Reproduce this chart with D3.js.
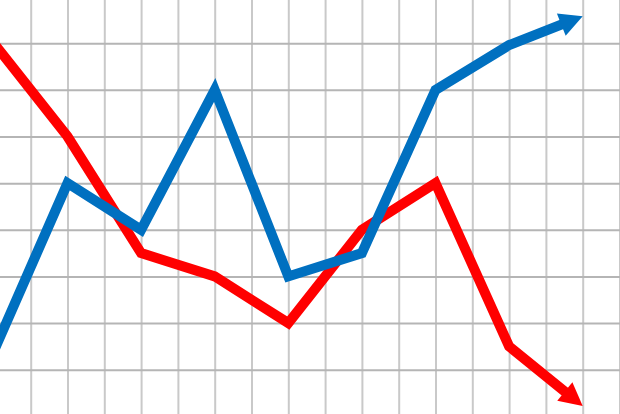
<!DOCTYPE html>
<html>
<head>
<meta charset="utf-8">
<script src="https://cdn.jsdelivr.net/npm/d3@7"></script>
<style>
  html, body { margin: 0; padding: 0; background: #fff; overflow: hidden; }
  svg { display: block; }
</style>
</head>
<body>
<svg id="chart"></svg>
<script>
const width = 620, height = 414;

// data (x in grid columns, y in grid rows)
const steps = [0, 2, 4, 6, 8, 10, 12, 14, 16];
const redValues = [8, 6, 3.5, 3, 2, 4, 5, 1.5, 0.22];
const blueValues = [1.4, 5, 4, 7, 3, 3.5, 7, 7.96, 8.58];
const colCount = 17, rowCount = 9;

const svg = d3.select("#chart")
  .attr("width", width)
  .attr("height", height);

const x = d3.scaleLinear().domain([0, colCount]).range([-6.1, 619.5]);
const y = d3.scaleLinear().domain([0, rowCount]).range([416.3, -3.4]);

// grid: vertical lines
svg.append("g")
  .attr("transform", `translate(0,${height})`)
  .call(d3.axisBottom(x).tickValues(d3.range(0, colCount + 1)).tickSize(-height).tickFormat(""))
  .call(g => g.select(".domain").remove())
  .call(g => g.selectAll("line").attr("stroke", "#c9c9c9").attr("stroke-width", 2));

// grid: horizontal lines
svg.append("g")
  .call(d3.axisLeft(y).tickValues(d3.range(0, rowCount + 1)).tickSize(-width).tickFormat(""))
  .call(g => g.select(".domain").remove())
  .call(g => g.selectAll("line").attr("stroke", "#b5b5b5").attr("stroke-width", 2));

const line = d3.line();
const headLen = 23, headWidth = 24;

function drawArrowLine(values, color) {
  const pts = steps.map((s, i) => [x(s), y(values[i])]);
  const tip = pts[pts.length - 1];
  const prev = pts[pts.length - 2];
  const dx = tip[0] - prev[0], dy = tip[1] - prev[1];
  const len = Math.hypot(dx, dy);
  const ux = dx / len, uy = dy / len;
  // stop the stroke inside the arrowhead
  const stop = [tip[0] - ux * (headLen - 4), tip[1] - uy * (headLen - 4)];
  const linePts = pts.slice(0, -1).concat([stop]);

  svg.append("path")
    .attr("d", line(linePts))
    .attr("fill", "none")
    .attr("stroke", color)
    .attr("stroke-width", 10)
    .attr("stroke-linejoin", "miter")
    .attr("stroke-miterlimit", 3);

  const base = [tip[0] - ux * headLen, tip[1] - uy * headLen];
  const px = -uy * headWidth / 2, py = ux * headWidth / 2;
  svg.append("path")
    .attr("d", line([tip, [base[0] + px, base[1] + py], [base[0] - px, base[1] - py]]) + "Z")
    .attr("fill", color);
}

drawArrowLine(redValues, "#ff0000");
drawArrowLine(blueValues, "#0070c0");
</script>
</body>
</html>
